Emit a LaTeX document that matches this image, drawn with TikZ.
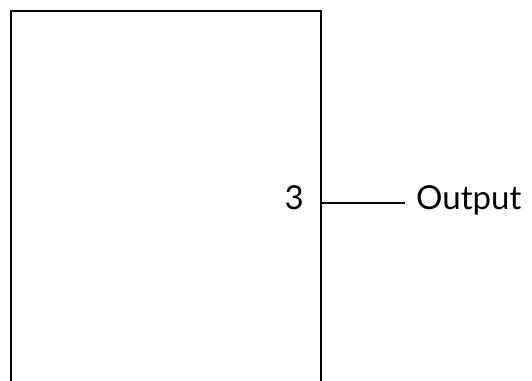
\documentclass[tikz,border=0pt]{standalone}
\usepackage{fontspec}
\setmainfont{Lato}
\begin{document}
\begin{tikzpicture}[x=1pt,y=1pt,
  lbl/.style={inner sep=0pt, font=\fontsize{33}{38}\selectfont},
  box/.style={line width=2.6pt, line join=miter}]
\useasboundingbox (0,0) rectangle (532,-380);
\draw[box] (11,-381) -- (11,-11) -- (321,-11) -- (321,-381);
\coordinate (pin) at (322,-203);
\node[lbl, anchor=base east] (num) at (304,-209) {3};
\node[lbl, anchor=base west] (out) at (416,-209) {Output};
\draw[line width=1.4pt] (pin) -- (405,-203);
\end{tikzpicture}
\end{document}
